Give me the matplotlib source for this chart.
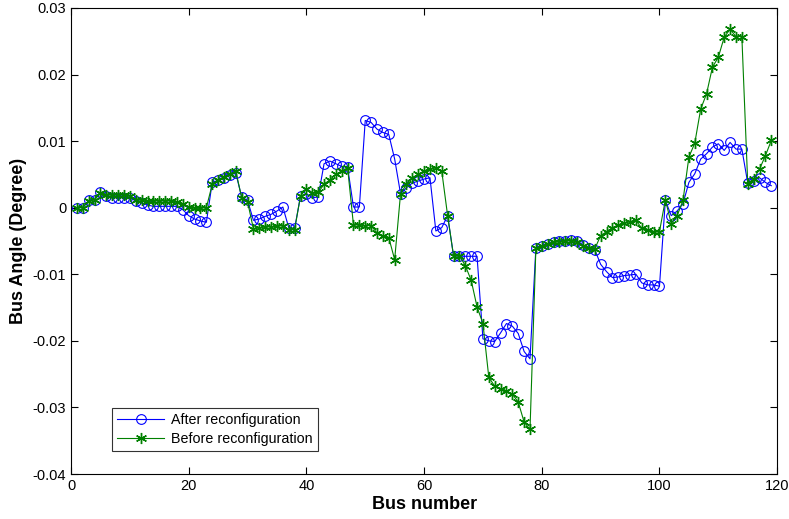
import matplotlib.pyplot as plt

plt.rcParams['font.family'] = ['Liberation Sans', 'DejaVu Sans']

bus = list(range(1, 120))

after_reconf = [
    0, 0, 0.0011, 0.0012, 0.0024, 0.0017, 0.0015, 0.0015, 0.0015, 0.0015,
    0.001, 0.0007, 0.0004, 0.0002, 0.0002, 0.0002, 0.0002, 0.0002, -0.0003, -0.0012,
    -0.0017, -0.002, -0.0022, 0.0038, 0.0041, 0.0044, 0.0049, 0.0052, 0.0016, 0.0011,
    -0.0019, -0.0017, -0.0013, -0.001, -0.0005, 0.0001, -0.003, -0.0031, 0.0017, 0.0021,
    0.0015, 0.0016, 0.0066, 0.007, 0.0066, 0.0062, 0.0061, 0.0001, 0.0001, 0.0131,
    0.0128, 0.0118, 0.0113, 0.011, 0.0073, 0.0021, 0.003, 0.0037, 0.004, 0.0043,
    0.0045, -0.0035, -0.003, -0.0012, -0.0072, -0.0073, -0.0073, -0.0073, -0.0073, -0.0197,
    -0.02, -0.0201, -0.0188, -0.0174, -0.0178, -0.0189, -0.0216, -0.0227, -0.006, -0.0057,
    -0.0054, -0.0052, -0.005, -0.005, -0.0049, -0.005, -0.0056, -0.006, -0.0063, -0.0085,
    -0.0096, -0.0105, -0.0104, -0.0102, -0.0101, -0.01, -0.0113, -0.0116, -0.0116, -0.0118,
    0.0011, -0.0012, -0.0005, 0.0006, 0.0038, 0.0051, 0.0073, 0.0081, 0.0091, 0.0096,
    0.0086, 0.0098, 0.0088, 0.0088, 0.0037, 0.004, 0.0045, 0.0038, 0.0033,
]

before_reconf = [
    0, 0, 0.001, 0.0012, 0.0022, 0.0019, 0.0019, 0.0019, 0.0019, 0.0018,
    0.0012, 0.0011, 0.001, 0.001, 0.001, 0.001, 0.001, 0.0009, 0.0006, 0.0001,
    -0.0001, -0.0001, 0, 0.0035, 0.0042, 0.0046, 0.005, 0.0055, 0.0015, 0.0009,
    -0.0032, -0.003, -0.0029, -0.0029, -0.0028, -0.0027, -0.0034, -0.0033, 0.0018, 0.0028,
    0.0022, 0.0023, 0.0035, 0.0042, 0.005, 0.0055, 0.006, -0.0026, -0.0026, -0.0027,
    -0.0027, -0.0038, -0.0042, -0.0045, -0.0078, 0.0021, 0.0035, 0.0045, 0.005, 0.0055,
    0.0058, 0.006, 0.0055, -0.0012, -0.0072, -0.0072, -0.0087, -0.0109, -0.0149, -0.0174,
    -0.0255, -0.0268, -0.0272, -0.0276, -0.028, -0.0292, -0.0322, -0.0333, -0.0061, -0.0058,
    -0.0055, -0.0052, -0.0051, -0.005, -0.005, -0.0051, -0.0058, -0.006, -0.0062, -0.0042,
    -0.0036, -0.003, -0.0026, -0.0023, -0.0021, -0.0019, -0.0031, -0.0034, -0.0036, -0.0036,
    0.0012, -0.0024, -0.0012, 0.0011, 0.0076, 0.0097, 0.0148, 0.0171, 0.0211, 0.0226,
    0.0256, 0.0268, 0.0257, 0.0257, 0.0036, 0.0043, 0.0058, 0.0078, 0.0101,
]

y_ticks = [-0.04, -0.03, -0.02, -0.01, 0, 0.01, 0.02, 0.03]
y_tick_labels = ['-0.04', '-0.03', '-0.02', '-0.01', '0', '0.01', '0.02', '0.03']

fig = plt.figure(figsize=(7.89, 5.19), dpi=100)
ax = fig.add_axes([0.09, 0.0867, 0.895, 0.898])

ax.plot(bus, after_reconf, color='#0000ff', marker='o', markersize=7,
        markerfacecolor='none', markeredgewidth=0.8, linewidth=0.8,
        label='After reconfiguration')
# matlab style asterisk marker
ax.plot(bus, before_reconf, color='#008000', marker=(6, 2, 0), markersize=8,
        markeredgewidth=1.0, linewidth=0.8, label='Before reconfiguration')

ax.set_xlim(0, 120)
ax.set_ylim(-0.04, 0.03)
ax.set_xticks([0, 20, 40, 60, 80, 100, 120])
ax.set_yticks(y_ticks)
ax.set_yticklabels(y_tick_labels)
ax.tick_params(direction='in', top=True, right=True, labelsize=10.5, length=5)

ax.set_xlabel('Bus number', fontsize=13, fontweight='bold', labelpad=2)
ax.set_ylabel('Bus Angle (Degree)', fontsize=13, fontweight='bold', labelpad=4)

leg = ax.legend(loc='lower left', bbox_to_anchor=(0.058, 0.05), borderaxespad=0,
                fancybox=False, edgecolor='black', fontsize=10.3,
                handlelength=3.3, handletextpad=0.5, labelspacing=0.35,
                borderpad=0.35)
leg.get_frame().set_linewidth(0.8)

fig.savefig('out.png', dpi=100)
